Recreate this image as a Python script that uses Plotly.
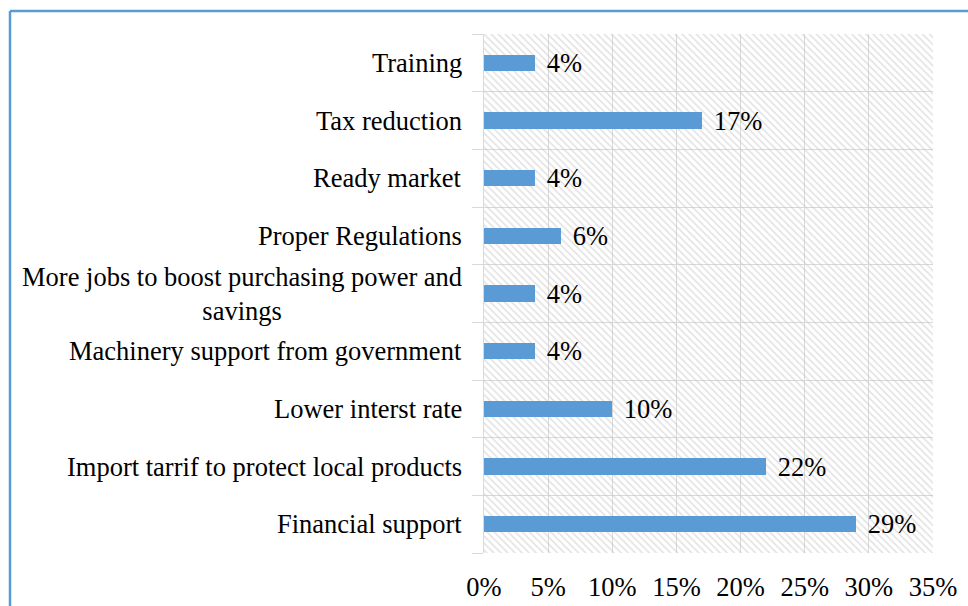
import plotly.graph_objects as go

# Survey responses, listed bottom-to-top as they appear on the chart
categories = [
    "Financial support",
    "Import tarrif to protect local products",
    "Lower interst rate",
    "Machinery support from government",
    "More jobs to boost purchasing power and<br>savings",
    "Proper Regulations",
    "Ready market",
    "Tax reduction",
    "Training",
]
shares = [29, 22, 10, 4, 4, 6, 4, 17, 4]
x_ticks = [0, 5, 10, 15, 20, 25, 30, 35]

positions = list(range(len(categories)))
x_max = x_ticks[-1]
bar_color = "#5B9BD5"
grid_color = "#D9D9D9"
font_family = "Liberation Serif, Times New Roman, serif"
font_size = 26.5

fig = go.Figure()

# Diagonal hatch filling the plot area
fig.add_trace(go.Bar(
    x=[x_max] * len(positions), y=positions, orientation="h", width=1,
    marker=dict(color="rgba(0,0,0,0)", line=dict(width=0),
                pattern=dict(shape="\\", fgcolor="#C4C4C4", bgcolor="rgba(0,0,0,0)",
                             size=5, solidity=0.3)),
    hoverinfo="skip", showlegend=False,
))

fig.add_trace(go.Bar(
    x=shares, y=positions, orientation="h", width=0.28,
    marker=dict(color=bar_color, line=dict(width=0)),
    text=[f"\u00a0\u200a{v}%" for v in shares], textposition="outside",
    constraintext="none",
    textfont=dict(family=font_family, size=font_size, color="#000000"),
    cliponaxis=False, showlegend=False,
))

# Category labels, centred line by line and right-aligned to the axis
for pos, label in zip(positions, categories):
    fig.add_annotation(
        x=0, xref="paper", y=pos, yref="y", text=label, showarrow=False,
        xanchor="right", yanchor="middle", align="center", xshift=-20,
        font=dict(family=font_family, size=font_size, color="#000000"),
    )

# Outer frame lines (left and top)
frame_x = (10 - 484) / 449
frame_y = (553 - 11) / 519
fig.add_shape(type="line", xref="paper", yref="paper",
              x0=frame_x, x1=frame_x, y0=-0.2, y1=frame_y,
              line=dict(color=bar_color, width=2.5))
fig.add_shape(type="line", xref="paper", yref="paper",
              x0=frame_x, x1=(968 - 484) / 449, y0=frame_y, y1=frame_y,
              line=dict(color=bar_color, width=2.5))

fig.update_layout(
    width=968, height=606,
    margin=dict(l=484, r=35, t=34, b=53, autoexpand=False),
    paper_bgcolor="#FFFFFF", plot_bgcolor="#FFFFFF",
    barmode="overlay", bargap=0,
    font=dict(family=font_family, size=font_size, color="#000000"),
    xaxis=dict(
        range=[0, x_max], tickvals=x_ticks, ticktext=[f"{t}%" for t in x_ticks],
        showgrid=True, gridcolor=grid_color, gridwidth=1,
        zeroline=False, showline=False, automargin=False,
        ticks="outside", ticklen=10, tickcolor="rgba(0,0,0,0)",
        tickfont=dict(family=font_family, size=font_size, color="#000000"),
        fixedrange=True,
    ),
    yaxis=dict(
        range=[-0.5, len(categories) - 0.5], tickvals=positions,
        showticklabels=False, showgrid=False, zeroline=False,
        showline=True, linecolor=grid_color, linewidth=1, automargin=False,
        minor=dict(tick0=0.5, dtick=1, showgrid=True, gridcolor=grid_color,
                   ticks="outside", ticklen=11, tickcolor=grid_color),
        ticks="", fixedrange=True,
    ),
)

fig.write_html("out.html")
